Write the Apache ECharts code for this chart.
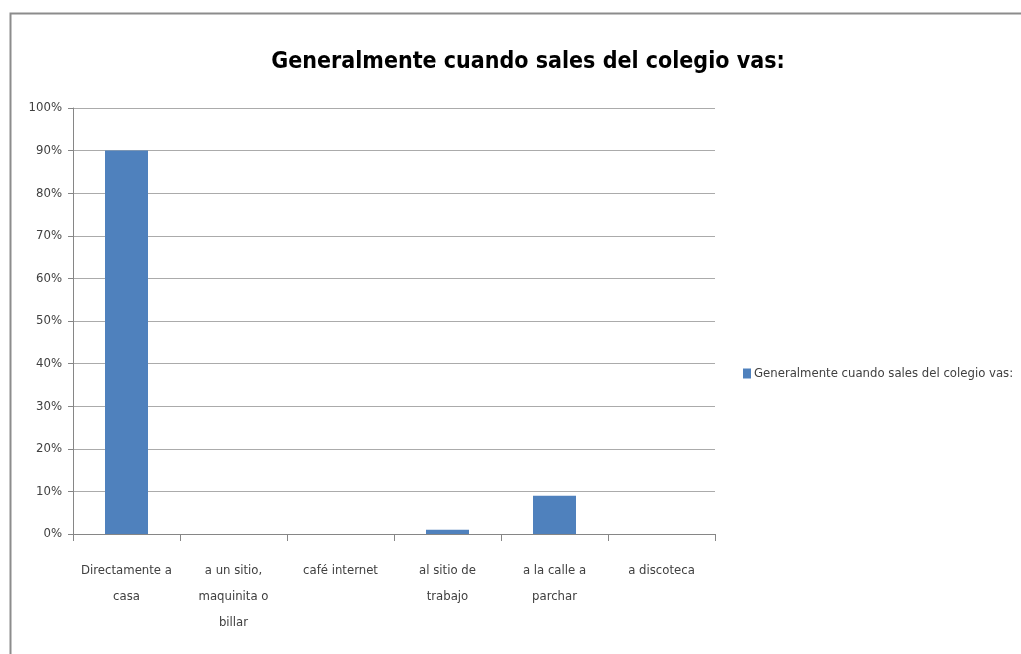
<!DOCTYPE html>
<html>
<head>
<meta charset="utf-8">
<script src="https://cdn.jsdelivr.net/npm/echarts@6/dist/echarts.min.js"></script>
<style>
html,body{margin:0;padding:0;background:#fff;}
#chart{width:1021px;height:654px;}
</style>
</head>
<body>
<div id="chart"></div>
<script>
const titleText = 'Generalmente cuando sales del colegio vas:';
const seriesName = 'Generalmente cuando sales del colegio vas:';
const categories = ['Directamente a\ncasa', 'a un sitio,\nmaquinita o\nbillar', 'café internet', 'al sitio de\ntrabajo', 'a la calle a\nparchar', 'a discoteca'];
const values = [90, 0, 0, 1, 9, 0];
const yTicks = [0, 10, 20, 30, 40, 50, 60, 70, 80, 90, 100];

const FONT = '"DejaVu Sans Condensed", "Liberation Sans Narrow", sans-serif';
const chart = echarts.init(document.getElementById('chart'));
chart.setOption({
  animation: false,
  backgroundColor: '#fff',
  graphic: [{
    type: 'rect', shape: {x: 10.5, y: 13.5, width: 1100, height: 700},
    style: {fill: 'none', stroke: '#8c8c8c', lineWidth: 2}, silent: true
  }],
  title: {
    text: titleText, left: 523, top: 46, textAlign: 'center',
    textStyle: {fontFamily: FONT, fontSize: 23, fontWeight: 'bold', color: '#000'}
  },
  legend: {
    left: 738, top: 362, itemWidth: 8, itemHeight: 10, itemGap: 4,
    icon: 'rect',
    textStyle: {fontFamily: FONT, fontSize: 13, color: '#404040', padding: [0,0,0,-2]},
    data: [seriesName]
  },
  grid: {left: 73, right: 306, top: 108, bottom: 120, containLabel: false},
  xAxis: {
    type: 'category', data: categories,
    axisLine: {lineStyle: {color: '#868686', width: 1}},
    axisTick: {show: true, length: 7, lineStyle: {color: '#868686'}},
    axisLabel: {fontFamily: FONT, fontSize: 13, color: '#404040', lineHeight: 26, margin: 24, interval: 0}
  },
  yAxis: {
    type: 'value', min: 0, max: 100, interval: 10,
    axisLine: {show: true, lineStyle: {color: '#868686'}},
    axisTick: {show: true, length: 5, inside: false, lineStyle: {color: '#868686'}},
    splitLine: {lineStyle: {color: '#ababab', width: 1}},
    axisLabel: {fontFamily: FONT, fontSize: 13, color: '#404040', margin: 11,
      formatter: v => yTicks.includes(v) ? v + '%' : ''}
  },
  series: [{
    name: seriesName, type: 'bar', data: values, barWidth: 43,
    itemStyle: {color: '#4F81BD'}
  }]
});
</script>
</body>
</html>
